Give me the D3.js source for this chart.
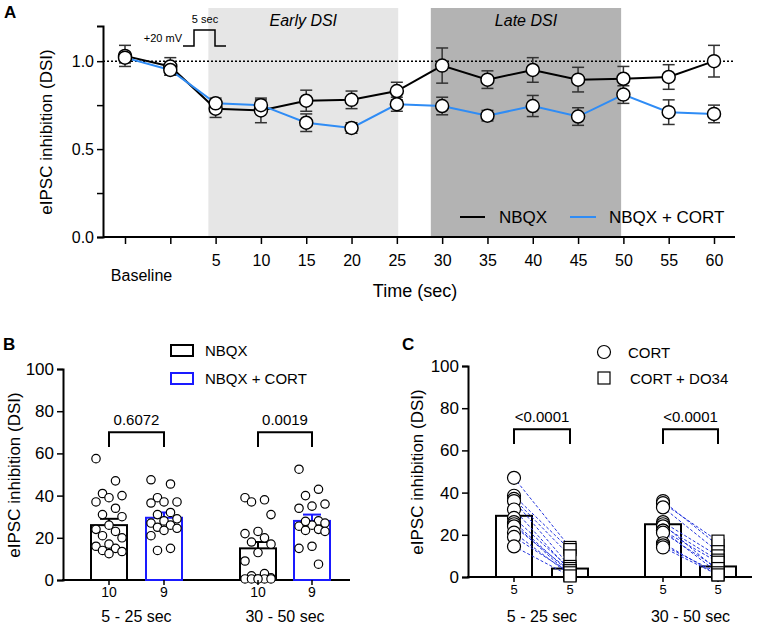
<!DOCTYPE html>
<html><head><meta charset="utf-8">
<script src="https://cdn.jsdelivr.net/npm/d3@7"></script>
<style>
body{margin:0;background:#fff;}
text{font-family:"Liberation Sans",Arial,sans-serif;fill:#000;}
.narrow{font-family:"Liberation Sans Narrow","Liberation Sans",Arial,sans-serif;}
</style></head>
<body><svg id="fig" width="758" height="627"></svg>
<script>
// ---- Panel A data ----
var timeLabels = ["Baseline", "", "5", "10", "15", "20", "25", "30", "35", "40", "45", "50", "55", "60"];
var nbqxMean = [1.03, 0.97, 0.73, 0.72, 0.775, 0.78, 0.83, 0.975, 0.895, 0.95, 0.895, 0.90, 0.91, 1.0];
var nbqxErr  = [0.06, 0.05, 0.05, 0.07, 0.06, 0.05, 0.05, 0.10, 0.05, 0.07, 0.07, 0.07, 0.07, 0.09];
var cortMean = [1.02, 0.95, 0.76, 0.75, 0.65, 0.62, 0.755, 0.745, 0.69, 0.745, 0.685, 0.81, 0.71, 0.70];
var cortErr  = [0.03, 0.03, 0.03, 0.03, 0.05, 0.03, 0.04, 0.05, 0.03, 0.06, 0.05, 0.05, 0.07, 0.05];
var windows = [{name: "Early DSI", x0: 1.84, x1: 6.03, fill: "#e6e6e6"},
               {name: "Late DSI", x0: 6.75, x1: 10.95, fill: "#b3b3b3"}];

// ---- Panel B data ----
var groups = ["5 - 25 sec", "30 - 50 sec"];
var bMeans = [[26, 29.5], [15, 28]];
var bErrs = [[3, 2.5], [3, 3]];
var bN = [["10", "9"], ["10", "9"]];
var bP = ["0.6072", "0.0019"];
var bPts = [
  [[57.5,47,41,40,39,37,34,31,30,26,24,23,21,20,17,16,15,14,13.5,12.5],
   [47.5,45.5,39,37,37,36.5,32,31,29,28,27,26,25,24.5,23.5,21,15,14]],
  [[39,38,37,31,23,22,20,18,17,13,9,3,2,1,0.5,0.5,0.5,0.5,0.5,0.5],
   [52.5,43,40,36,35,34,28,27.5,27,26,25.5,24,23.5,23,16,15,7.5,27.8]]
];

// ---- Panel C data ----
var cMeans = [[29, 4], [25, 5]];
var cN = [["5", "5"], ["5", "5"]];
var cP = ["<0.0001", "<0.0001"];
var cPairs = [
  [[47,14],[38.5,13],[37,10],[36,5],[32,3],[28,4],[26,2],[25,1],[24,3],[21,1],[19,2],[14.5,0.5]],
  [[36,15],[35,17],[33,12],[26,10],[25,3],[24,8],[22,7],[22,2],[21,4],[16,1],[15,2],[14,1]]
];

var svg = d3.select("#fig");

// ================= Panel A =================
var ax = d3.scaleLinear().domain([0, 13]).range([125, 714]);
var ay = d3.scaleLinear().domain([0, 1.2]).range([237, 26]);
var A = svg.append("g");

windows.forEach(function(w) {
  A.append("rect").attr("x", ax(w.x0)).attr("y", 8)
    .attr("width", ax(w.x1) - ax(w.x0)).attr("height", ay(0) - 8).attr("fill", w.fill);
  A.append("text").attr("class", "narrow").attr("x", (ax(w.x0) + ax(w.x1)) / 2).attr("y", 26)
    .attr("text-anchor", "middle").attr("font-size", 16).attr("font-style", "italic").text(w.name);
});

A.append("line").attr("x1", 103).attr("x2", 735).attr("y1", ay(1)).attr("y2", ay(1))
  .attr("stroke", "#000").attr("stroke-width", 1.5).attr("stroke-dasharray", "2,2");

var yA = A.append("g").attr("transform", "translate(103,0)")
  .call(d3.axisLeft(ay).tickValues([0, 0.25, 0.5, 0.75, 1.0])
    .tickFormat(function(d) { return (d * 2) % 1 === 0 ? d.toFixed(1) : ""; }).tickSize(6));
yA.select(".domain").attr("stroke-width", 2);
yA.selectAll("line").attr("stroke-width", 1.5);
yA.selectAll("text").attr("class", "narrow").attr("font-size", 16);

var xA = A.append("g").attr("transform", "translate(0," + ay(0) + ")")
  .call(d3.axisBottom(ax).tickValues(d3.range(14)).tickFormat(function(d) { return timeLabels[d]; }).tickSize(7).tickSizeOuter(0));
xA.select(".domain").attr("d", "M103,0H735").attr("stroke-width", 2);
xA.selectAll("line").attr("stroke-width", 1.5);
xA.selectAll("text").attr("class", "narrow").attr("font-size", 16).attr("dy", "1.2em");
xA.selectAll(".tick").filter(function(d) { return d === 0; }).select("text").attr("dy", "2.1em").attr("dx", "1.0em");

function series(mean, err, color) {
  var line = d3.line().x(function(d, i) { return ax(i); }).y(function(d) { return ay(d); });
  A.append("path").datum(mean).attr("d", line).attr("fill", "none").attr("stroke", color).attr("stroke-width", 2);
  mean.forEach(function(m, i) {
    var x = ax(i);
    var g = A.append("g").attr("stroke", "#333").attr("stroke-width", 1.5);
    g.append("line").attr("x1", x).attr("x2", x).attr("y1", ay(m - err[i])).attr("y2", ay(m + err[i]));
    [m - err[i], m + err[i]].forEach(function(v) {
      g.append("line").attr("x1", x - 6).attr("x2", x + 6).attr("y1", ay(v)).attr("y2", ay(v));
    });
  });
}
series(nbqxMean, nbqxErr, "#000");
series(cortMean, cortErr, "#2f8cf5");
[nbqxMean, cortMean].forEach(function(mean) {
  A.selectAll(null).data(mean).enter().append("circle")
    .attr("cx", function(d, i) { return ax(i); }).attr("cy", function(d) { return ay(d); })
    .attr("r", 6.5).attr("fill", "#fff").attr("stroke", "#000").attr("stroke-width", 1.5);
});

// legend A
A.append("line").attr("x1", 460).attr("x2", 485).attr("y1", 217).attr("y2", 217).attr("stroke", "#000").attr("stroke-width", 2);
A.append("text").attr("class", "narrow").attr("x", 499).attr("y", 223).attr("font-size", 17).text("NBQX");
A.append("line").attr("x1", 570).attr("x2", 596).attr("y1", 217).attr("y2", 217).attr("stroke", "#2f8cf5").attr("stroke-width", 2);
A.append("text").attr("class", "narrow").attr("x", 609).attr("y", 223).attr("font-size", 17).text("NBQX + CORT");

// pulse inset
A.append("path").attr("d", "M183,46H194V30H215V46H226").attr("fill", "none").attr("stroke", "#000").attr("stroke-width", 1.5);
A.append("text").attr("class", "narrow").attr("x", 182).attr("y", 42).attr("text-anchor", "end").attr("font-size", 11).text("+20 mV");
A.append("text").attr("class", "narrow").attr("x", 205).attr("y", 23).attr("text-anchor", "middle").attr("font-size", 11).text("5 sec");

A.append("text").attr("x", 415).attr("y", 297).attr("text-anchor", "middle").attr("class", "narrow").attr("font-size", 18).text("Time (sec)");
A.append("text").attr("transform", "translate(52,132)rotate(-90)").attr("text-anchor", "middle").attr("font-size", 17).text("eIPSC inhibition (DSI)");
A.append("text").attr("x", 4).attr("y", 18).attr("font-size", 17).attr("font-weight", "bold").text("A");

// ================= helpers for B/C =================
function yAxis(g, y, x0) {
  var a = g.append("g").attr("transform", "translate(" + x0 + ",0)")
    .call(d3.axisLeft(y).tickValues([0, 20, 40, 60, 80, 100]).tickSize(6));
  a.select(".domain").attr("stroke-width", 2);
  a.selectAll("line").attr("stroke-width", 1.5);
  a.selectAll("text").attr("font-size", 17);
}
function bracket(g, y, xa, xb, label) {
  g.append("path").attr("d", "M" + xa + "," + y(63) + "V" + y(70) + "H" + xb + "V" + y(63))
    .attr("fill", "none").attr("stroke", "#000").attr("stroke-width", 2);
  g.append("text").attr("x", (xa + xb) / 2).attr("y", y(73.5)).attr("text-anchor", "middle").attr("font-size", 15).text(label);
}

// ================= Panel B =================
var B = svg.append("g");
var by = d3.scaleLinear().domain([0, 100]).range([580, 369]);
var bCenters = [[109, 164], [258, 312]];
var bColors = ["#000", "#1a1aff"];
var bw = 36;
yAxis(B, by, 63);
B.append("line").attr("x1", 62).attr("x2", 350).attr("y1", by(0)).attr("y2", by(0)).attr("stroke", "#000").attr("stroke-width", 2);

groups.forEach(function(gname, gi) {
  [0, 1].forEach(function(k) {
    var cx = bCenters[gi][k], m = bMeans[gi][k];
    B.append("rect").attr("x", cx - bw / 2).attr("y", by(m)).attr("width", bw).attr("height", by(0) - by(m))
      .attr("fill", "#fff").attr("stroke", bColors[k]).attr("stroke-width", 2);
    B.append("line").attr("x1", cx).attr("x2", cx).attr("y1", by(m)).attr("y2", by(m + bErrs[gi][k])).attr("stroke", bColors[k]).attr("stroke-width", 2);
    B.append("line").attr("x1", cx - 9).attr("x2", cx + 9).attr("y1", by(m + bErrs[gi][k])).attr("y2", by(m + bErrs[gi][k])).attr("stroke", bColors[k]).attr("stroke-width", 2);
    bPts[gi][k].forEach(function(v, i) {
      var off = ((i * 3) % 5 - 2) * 6.5;
      B.append("circle").attr("cx", cx + off).attr("cy", by(v)).attr("r", 4.2)
        .attr("fill", "#fff").attr("stroke", "#000").attr("stroke-width", 1.2);
    });
    B.append("line").attr("x1", cx).attr("x2", cx).attr("y1", by(0)).attr("y2", by(0) + 5).attr("stroke", "#000").attr("stroke-width", 1.5);
    B.append("text").attr("x", cx).attr("y", 597).attr("text-anchor", "middle").attr("font-size", 14).text(bN[gi][k]);
  });
  bracket(B, by, bCenters[gi][0], bCenters[gi][1], bP[gi]);
  B.append("text").attr("x", (bCenters[gi][0] + bCenters[gi][1]) / 2).attr("y", 622).attr("text-anchor", "middle").attr("font-size", 16).text(gname);
});
B.append("text").attr("transform", "translate(20,475)rotate(-90)").attr("text-anchor", "middle").attr("font-size", 17).text("eIPSC inhibition (DSI)");
B.append("text").attr("x", 3).attr("y", 350).attr("font-size", 17).attr("font-weight", "bold").text("B");
B.append("rect").attr("x", 171).attr("y", 345).attr("width", 22).attr("height", 11).attr("fill", "#fff").attr("stroke", "#000").attr("stroke-width", 2);
B.append("text").attr("x", 205).attr("y", 356).attr("font-size", 15).text("NBQX");
B.append("rect").attr("x", 171).attr("y", 373).attr("width", 22).attr("height", 11).attr("fill", "#fff").attr("stroke", "#1a1aff").attr("stroke-width", 2);
B.append("text").attr("x", 205).attr("y", 384).attr("font-size", 15).text("NBQX + CORT");

// ================= Panel C =================
var C = svg.append("g");
var cy = d3.scaleLinear().domain([0, 100]).range([577, 366]);
var cCenters = [[514, 570], [663, 718]];
yAxis(C, cy, 468);
C.append("line").attr("x1", 467).attr("x2", 752).attr("y1", cy(0)).attr("y2", cy(0)).attr("stroke", "#000").attr("stroke-width", 2);

groups.forEach(function(gname, gi) {
  [0, 1].forEach(function(k) {
    var cx = cCenters[gi][k], m = cMeans[gi][k];
    C.append("rect").attr("x", cx - 18).attr("y", cy(m)).attr("width", 36).attr("height", cy(0) - cy(m))
      .attr("fill", "#fff").attr("stroke", "#000").attr("stroke-width", 2);
    C.append("line").attr("x1", cx).attr("x2", cx).attr("y1", cy(0)).attr("y2", cy(0) + 5).attr("stroke", "#000").attr("stroke-width", 1.5);
    C.append("text").attr("x", cx).attr("y", 594).attr("text-anchor", "middle").attr("font-size", 13).text(cN[gi][k]);
  });
  var x0 = cCenters[gi][0], x1 = cCenters[gi][1];
  cPairs[gi].forEach(function(p) {
    C.append("line").attr("x1", x0).attr("x2", x1).attr("y1", cy(p[0])).attr("y2", cy(p[1]))
      .attr("stroke", "#2233dd").attr("stroke-width", 1).attr("stroke-dasharray", "3,2");
  });
  cPairs[gi].forEach(function(p) {
    C.append("circle").attr("cx", x0).attr("cy", cy(p[0])).attr("r", 6.5).attr("fill", "#fff").attr("stroke", "#000").attr("stroke-width", 1.2);
    C.append("rect").attr("x", x1 - 6).attr("y", cy(p[1]) - 6).attr("width", 12).attr("height", 12).attr("fill", "#fff").attr("stroke", "#000").attr("stroke-width", 1.2);
  });
  bracket(C, cy, x0, x1, cP[gi]);
  C.append("text").attr("x", (x0 + x1) / 2).attr("y", 622).attr("text-anchor", "middle").attr("font-size", 16).text(gname);
});
C.append("text").attr("transform", "translate(423,472)rotate(-90)").attr("text-anchor", "middle").attr("font-size", 17).text("eIPSC inhibition (DSI)");
C.append("text").attr("x", 402).attr("y", 350).attr("font-size", 17).attr("font-weight", "bold").text("C");
C.append("circle").attr("cx", 604).attr("cy", 352).attr("r", 6.5).attr("fill", "#fff").attr("stroke", "#000").attr("stroke-width", 1.2);
C.append("text").attr("x", 628).attr("y", 358).attr("font-size", 15).text("CORT");
C.append("rect").attr("x", 598).attr("y", 372).attr("width", 12).attr("height", 12).attr("fill", "#fff").attr("stroke", "#000").attr("stroke-width", 1.2);
C.append("text").attr("x", 630).attr("y", 384).attr("font-size", 15).text("CORT + DO34");
</script></body></html>
